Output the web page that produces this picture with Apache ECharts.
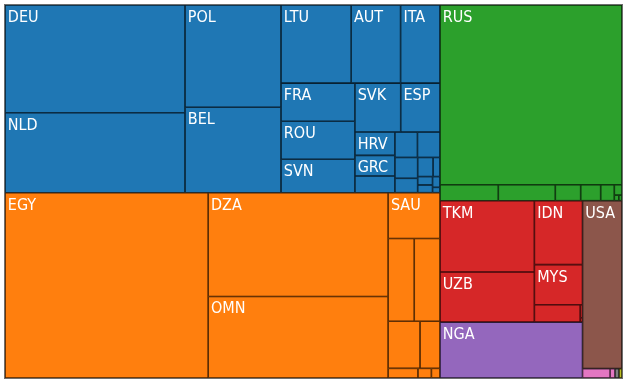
<!DOCTYPE html>
<html><head><meta charset="utf-8">
<script src="https://cdn.jsdelivr.net/npm/echarts@6/dist/echarts.min.js"></script>
<style>html,body{margin:0;padding:0;background:#fff}#c{width:627px;height:383px}</style>
</head><body><div id="c"></div>
<script>
const groupNames = ['Europe', 'Middle East & North Africa', 'Russia & CIS', 'Asia', 'Nigeria', 'United States', 'Other A', 'Other B', 'Other C'];
const groupColors = ['#1f77b4', '#ff7f0e', '#2ca02c', '#d62728', '#9467bd', '#8c564b', '#e377c2', '#7f7f7f', '#bcbd22'];

const europeLabels = ['DEU', 'NLD', 'POL', 'BEL', 'LTU', 'AUT', 'ITA', 'FRA', 'ROU', 'SVN', 'SVK', 'ESP', 'HRV', 'GRC', '', '', '', '', '', '', '', '', '', '', ''];
const europeValues = [19386, 14400, 9821, 8198, 5481, 3860, 3077, 2816, 2808, 2472, 2240, 1919, 933, 827, 667, 574, 573, 475, 328, 295, 132, 125, 115, 80, 40];

const menaLabels = ['EGY', 'DZA', 'OMN', 'SAU', '', '', '', '', '', '', ''];
const menaValues = [37648, 18669, 14668, 2371, 2160, 2130, 1504, 940, 288, 130, 83];

const cisLabels = ['RUS', '', '', '', '', '', '', '', ''];
const cisValues = [32705, 933, 912, 406, 320, 218, 80, 25, 18];

const asiaLabels = ['TKM', 'UZB', 'IDN', 'MYS', '', '', ''];
const asiaValues = [6724, 4735, 3077, 1932, 796, 30, 10];

const ngaLabels = ['NGA'];
const ngaValues = [7965];

const usaLabels = ['USA'];
const usaValues = [6630];

const otherALabels = ['', ''];
const otherAValues = [258, 45];
const otherBLabels = [''];
const otherBValues = [38];
const otherCLabels = [''];
const otherCValues = [28];

const groupLabels = [europeLabels, menaLabels, cisLabels, asiaLabels, ngaLabels, usaLabels, otherALabels, otherBLabels, otherCLabels];
const groupValues = [europeValues, menaValues, cisValues, asiaValues, ngaValues, usaValues, otherAValues, otherBValues, otherCValues];

const data = groupNames.map((g, gi) => ({
  name: g,
  itemStyle: { color: groupColors[gi], borderColor: groupColors[gi], borderWidth: 0, gapWidth: 0 },
  children: groupValues[gi].map((v, i) => ({
    name: groupLabels[gi][i],
    value: v,
    itemStyle: { color: groupColors[gi] }
  }))
}));

const chart = echarts.init(document.getElementById('c'), null, { renderer: 'canvas' });
chart.setOption({
  animation: false,
  tooltip: { show: false },
  series: [{
    type: 'treemap',
    left: 4, top: 4, width: 619, height: 375,
    roam: false,
    nodeClick: false,
    breadcrumb: { show: false },
    visibleMin: 0,
    sort: 'desc',
    label: {
      show: true,
      position: [2, 4],
      padding: 0,
      overflow: 'none',
      color: '#ffffff',
      fontSize: 16,
      fontFamily: '"DejaVu Sans Condensed", "Liberation Sans Narrow", sans-serif',
      formatter: '{b}'
    },
    upperLabel: { show: false },
    levels: [
      { itemStyle: { borderColor: '#6e6e6e', borderWidth: 1, gapWidth: 0 } },
      { itemStyle: { borderWidth: 0, gapWidth: 0 } },
      { itemStyle: { borderColor: 'rgba(0,0,0,0.72)', borderWidth: 0.8, gapWidth: 0 } }
    ],
    data: data
  }]
});
</script>
</body></html>
